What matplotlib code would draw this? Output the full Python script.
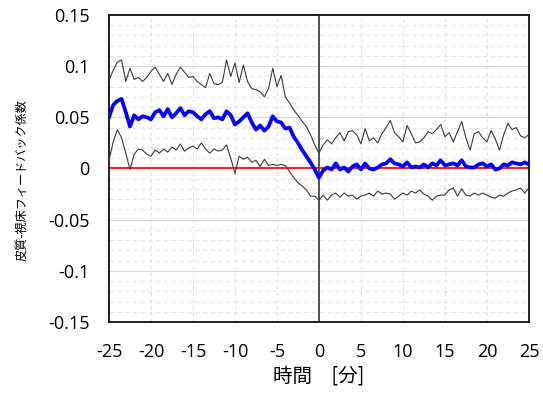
import numpy as np
import matplotlib
matplotlib.use("Agg")
import matplotlib.pyplot as plt
from matplotlib.ticker import MultipleLocator

plt.rcParams['font.family'] = ['Open Sans', 'Noto Sans CJK JP', 'DejaVu Sans']

t = np.arange(-25, 25.01, 0.5)

mean_vals = [0.050, 0.062, 0.066, 0.068, 0.055, 0.041, 0.052, 0.048, 0.051, 0.050,
             0.048, 0.055, 0.057, 0.051, 0.058, 0.050, 0.054, 0.059, 0.052, 0.056,
             0.055, 0.051, 0.048, 0.053, 0.056, 0.049, 0.050, 0.048, 0.056, 0.052,
             0.043, 0.046, 0.050, 0.054, 0.045, 0.038, 0.042, 0.037, 0.041, 0.051,
             0.046, 0.045, 0.039, 0.040, 0.031, 0.025, 0.018, 0.012, 0.006, -0.001,
             -0.009, -0.002, 0.001, -0.001, 0.005, -0.001, 0.001, -0.003, 0.002, 0.004,
             -0.001, 0.005, 0.000, -0.001, 0.001, 0.004, 0.005, 0.009, 0.005, 0.004,
             0.002, 0.006, 0.001, 0.002, 0.001, 0.004, 0.001, 0.005, 0.003, 0.008,
             0.003, 0.004, 0.005, 0.003, 0.008, 0.002, 0.001, 0.001, 0.004, 0.005,
             0.002, 0.004, -0.001, 0.000, 0.004, 0.003, 0.006, 0.005, 0.004, 0.006,
             0.004]

upper_vals = [0.086, 0.096, 0.104, 0.106, 0.085, 0.098, 0.087, 0.089, 0.085, 0.089,
              0.095, 0.099, 0.092, 0.085, 0.093, 0.082, 0.092, 0.099, 0.094, 0.089,
              0.090, 0.085, 0.082, 0.079, 0.093, 0.083, 0.082, 0.084, 0.106, 0.090,
              0.103, 0.084, 0.101, 0.085, 0.078, 0.077, 0.075, 0.070, 0.078, 0.098,
              0.080, 0.091, 0.070, 0.064, 0.057, 0.052, 0.046, 0.041, 0.033, 0.023,
              0.015, 0.023, 0.028, 0.024, 0.030, 0.035, 0.027, 0.036, 0.037, 0.033,
              0.024, 0.039, 0.027, 0.030, 0.025, 0.034, 0.040, 0.047, 0.035, 0.031,
              0.026, 0.042, 0.034, 0.025, 0.026, 0.030, 0.036, 0.034, 0.038, 0.043,
              0.031, 0.035, 0.026, 0.036, 0.046, 0.030, 0.018, 0.034, 0.036, 0.030,
              0.026, 0.037, 0.029, 0.018, 0.033, 0.044, 0.038, 0.040, 0.032, 0.030,
              0.033]

lower_vals = [0.008, 0.026, 0.038, 0.030, 0.015, -0.001, 0.014, 0.019, 0.018, 0.014,
              0.012, 0.018, 0.015, 0.019, 0.016, 0.021, 0.018, 0.024, 0.017, 0.020,
              0.022, 0.019, 0.025, 0.019, 0.015, 0.019, 0.017, 0.018, 0.023, 0.010,
              -0.005, 0.012, 0.009, 0.011, 0.006, 0.008, 0.002, 0.009, 0.003, 0.004,
              0.003, 0.004, 0.003, -0.003, -0.009, -0.014, -0.017, -0.021, -0.027, -0.027,
              -0.031, -0.026, -0.031, -0.026, -0.024, -0.028, -0.024, -0.027, -0.026, -0.030,
              -0.027, -0.026, -0.024, -0.027, -0.022, -0.025, -0.024, -0.025, -0.030, -0.027,
              -0.024, -0.026, -0.022, -0.024, -0.021, -0.025, -0.027, -0.031, -0.027, -0.026,
              -0.026, -0.021, -0.019, -0.027, -0.020, -0.026, -0.027, -0.024, -0.026, -0.024,
              -0.026, -0.028, -0.029, -0.026, -0.027, -0.024, -0.022, -0.021, -0.019, -0.024,
              -0.019]

xticks = [-25, -20, -15, -10, -5, 0, 5, 10, 15, 20, 25]
yticks = [-0.15, -0.1, -0.05, 0, 0.05, 0.1, 0.15]
ytick_labels = ['-0.15', '-0.1', '-0.05', '0', '0.05', '0.1', '0.15']
xlabel = '時間\u3000[分]'
ylabel = '皮質-視床フィードバック係数'

fig = plt.figure(figsize=(5.43, 3.94), dpi=100)
ax = fig.add_axes([0.2007, 0.1827, 0.7733, 0.7793])

ax.set_xlim(-25, 25)
ax.set_ylim(-0.15, 0.15)

# grid
ax.yaxis.set_minor_locator(MultipleLocator(0.01))
ax.grid(True, axis='y', which='major', color='#d9d9d9', lw=0.8, ls='-')
ax.grid(True, axis='y', which='minor', color='#e3e3e3', lw=0.8, ls=(0, (4, 3)))
ax.grid(True, axis='x', which='major', color='#dcdcdc', lw=0.8, ls=(0, (3, 3)))
ax.set_axisbelow(True)

ax.axhline(0, color='#ff2020', lw=1.5, zorder=2)
ax.axvline(0, color='#505050', lw=1.4, zorder=2)

ax.plot(t, upper_vals, color='#3a3a3a', lw=0.8, zorder=3)
ax.plot(t, lower_vals, color='#3a3a3a', lw=0.8, zorder=3)
ax.plot(t, mean_vals, color='#0000ff', lw=2.7, zorder=4)

ax.set_xticks(xticks)
ax.set_xticklabels([str(v) for v in xticks])
ax.set_yticks(yticks)
ax.set_yticklabels(ytick_labels)
ax.tick_params(axis='both', which='both', length=0, labelsize=13)
ax.tick_params(axis='x', pad=15)
ax.tick_params(axis='y', pad=14)

for s in ax.spines.values():
    s.set_color('#111111')
    s.set_linewidth(1.3)

ax.set_xlabel(xlabel, fontsize=14, family=['Noto Sans CJK JP', 'DejaVu Sans'], labelpad=3)
ax.set_ylabel(ylabel, fontsize=8.7, family=['Noto Sans CJK JP', 'DejaVu Sans'],
              va='center', ha='center')
ax.yaxis.set_label_coords(-0.207, 0.4625)

fig.savefig('out.png', dpi=100)
